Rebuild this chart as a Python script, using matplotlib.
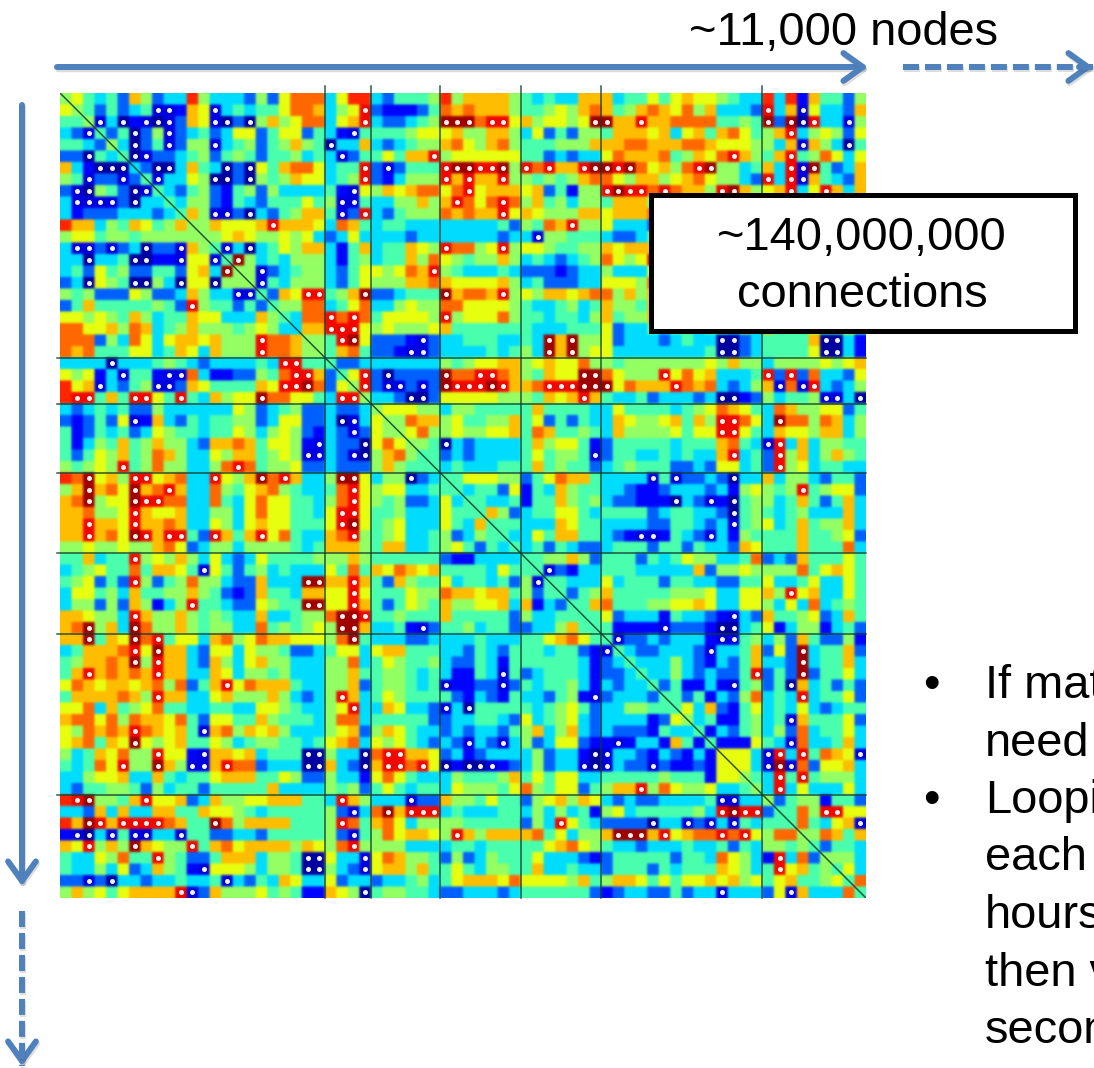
#plot.py
import numpy as np
import matplotlib
matplotlib.use("Agg")
import matplotlib.pyplot as plt
from matplotlib.patches import FancyArrowPatch, Rectangle
import matplotlib.patheffects as pe

plt.rcParams["font.family"] = ["Liberation Sans", "DejaVu Sans"]

# colour level of each code used in the rows below
level_codes = {"0": 0.03, "a": 0.085, "1": 0.13, "2": 0.22, "3": 0.34, "4": 0.44, "5": 0.53,
               "6": 0.63, "7": 0.71, "8": 0.80, "r": 0.87, "9": 0.90, "x": 0.97}

# upper triangle, row i starts at the diagonal cell. Rows 9-20 stop at column 50 (box covers the rest)
upper_rows = [
    "564342752 33r533325 26888 36rr 324445r577 7754343377 73446467 665433r3r174425",
    "54242 34aa1 76a34 34468 87356 9 2111248787 7754456578 74578768 573332937a63327",
    "5a301a0a27 6a02057568 83679 322345xxx8 996756656x x7797788 884454x2x0933a5",
    "424025a234 2366246624 31a4 4445666755 7753624255 47776736 747864579356526",
    "53024a255a 3452457540 337 3234557865 7854445557 77887778 876665537a75304",
    "40a2234524 542445343a 24 4647795666 6664423233 68777845 768975479458636",
    "3200374302 0647886344 9 2a24449xx9 9x5989779x x9x86758 9x5534739ax4237",
    "4a33650020 5457663459 2135559797 7955454578 86577567 865532939a74327",
    "4324521452 533334 1a6 5767886896 7776724155 9x998987 759x75679369737",
    "4355214324 44645aa4 3355757986 8985745355 4777",
    "475aa20324 5774a29 3245558787 7967655577 6777",
    "5576667977 763874 3443333333 3425487955 6333",
    "5567655656 32363 3332333333 3233a55444 3223",
    "4a30346577 3147 3447659885 6956654455 7677",
    "4x53435553 145 3447586545 5753432345 8656",
    "55a2345532 46 6568795433 3432221233 5333",
    "5a43555324 6 5557787666 6753422233 6665",
    "427699457x 223444x788 7956577678 8575",
    "455883468 3356558866 6654334534 7554",
    "43889898 4666659566 6854434435 7455",
    "3779996 5655567444 4444333444 6233",
    "5549x6 2221a23344 43343x7x55 62333234 330023444470031",
    "54784 221aa23333 43453x7x56 63333333 340023444460031",
    "4223 3333335456 6775676685 54555555 565755355556567",
    "469 202222x889 98754766xx 86555968 673334929283326",
    "59 2aa2a2x999 x9778999xx x6877798 7832357a8a93235",
    "5 3320026666 6555476797 43342333 23001253445aa30",
    "5666553554 4444744443 36444434 568764387556624",
    "5587756445 5746242433 7655674 7599863x8858735",
    "5685565566 7487445437 555564 669964376657735",
    "5540323333 4756641244 44434 447843a93735544",
    "4423233334 64554a2443 3434 337934295735754",
    "4343334447 4544234544 422 326634295634433",
    "4466655246 87743333a4 a2 232033735532442",
    "4344261437 5443321123 3 323156545945662",
    "4433414475 4532211103 2a1045534742473",
    "4752344664 344442344 332045434533373",
    "4443337644 33332244 323a45634745573",
    "4336477443 21aa143 2a3154444744562",
    "4342432234 442442 433276444744483",
    "4455752444 24346 553348232744464",
    "4a21334443 3333 725565555846764",
    "4433363444 244 332244633463364",
    "4245744444 55 563366759673364",
    "4478444556 6 763366536383454",
    "4462333143 321a32744562374",
    "441111a22 210034613551342",
    "4a223233 31aa45352742251",
    "4322333 2a3347262x34472",
    "433353 213247332x34473",
    "43353 232249242x24463",
    "4241 131a45240734242",
    "442 413258343934462",
    "46 372146343632344",
    "5 34114534a744462",
    "413245352834463",
    "4111643a833473",
    "6663a9394876a",
    "663axa826673",
    "54394945553",
    "5393633363",
    "524551442",
    "44859966",
    "484367a",
    "558747",
    "42443",
    "5553",
    "463",
    "48",
    "4",
]

# rows 51-69, columns 9-20: the mirror of the part under the box
mirror_rows = [
    "582479687774", "773367555753", "443344336654", "684266447544", "674a78576753",
    "674465345544", "661a77673444", "75aa79882333", "434467774465", "344244444733",
    "672375566777", "744766543444", "8744x8577774", "3a4422332444", "559478677775",
    "542247773554", "541a66653554", "34334a324376", "79a275556454",
]

module_edges = [23, 27, 33, 40, 47, 61]
bullet_lines = ["If mat", "need", "Loopi", "each", "hours", "then v", "secon"]
bullet_marks = [0, 2]

n = 70
matrix = np.full((n, n), 0.44)
bad = []
for i, row in enumerate(upper_rows):
    row = "".join(row.split())
    expected = 51 - i if 9 <= i <= 20 else n - i
    if len(row) != expected:
        bad.append((i, len(row), expected))
    for k, code in enumerate(row[:n - i]):
        matrix[i, i + k] = level_codes[code]
        matrix[i + k, i] = level_codes[code]
for i, row in enumerate(mirror_rows):
    for k, code in enumerate(row):
        matrix[51 + i, 9 + k] = level_codes[code]
        matrix[9 + k, 51 + i] = level_codes[code]
if bad:
    raise ValueError(f"row lengths: {bad}")

fig = plt.figure(figsize=(10.94, 10.68), dpi=100)

# heat map, 60..866 px across and 93..898 px down
# each cell is repeated 4 times so the gaussian filter only softens the cell edges
ax = fig.add_axes([60 / 1094, 1 - 898 / 1068, 806 / 1094, 805 / 1068])
ax.imshow(np.kron(matrix, np.ones((4, 4))), cmap="jet", vmin=0, vmax=1, interpolation="gaussian",
          aspect="auto", extent=(-0.5, n - 0.5, n - 0.5, -0.5))
rows, cols = np.where((matrix < 0.1) | (matrix >= 0.895))
ax.scatter(cols, rows, s=13, c="white", linewidths=0, alpha=0.95, zorder=3)
for e in module_edges:
    ax.plot([e - 0.5, e - 0.5], [-1.1, n - 0.5], color="#123a2a", lw=1.1, alpha=0.85, clip_on=False, zorder=4)
    ax.plot([-0.8, n - 0.5], [e - 0.5, e - 0.5], color="#123a2a", lw=1.1, alpha=0.85, clip_on=False, zorder=4)
ax.plot([-0.5, n - 0.5], [-0.5, n - 0.5], color="#123a2a", lw=1.1, alpha=0.85, zorder=4)
ax.set_xlim(-0.5, n - 0.5)
ax.set_ylim(n - 0.5, -0.5)
ax.axis("off")

# overlay in pixel coordinates for arrows, box and text
over = fig.add_axes([0, 0, 1, 1], zorder=5)
over.set_xlim(0, 1094)
over.set_ylim(1068, 0)
over.axis("off")
over.patch.set_alpha(0)

blue = "#4f81bd"
shadow = [pe.SimpleLineShadow(offset=(0.8, -1.6), alpha=0.2, shadow_color="#555555"), pe.Normal()]


def arrow(start, end, dashed=False):
    if dashed:
        # dashes without a head, then a short solid piece for the head
        over.plot([start[0], end[0]], [start[1], end[1]], color=blue, lw=4.3,
                  dashes=(2.68, 1.0), dash_capstyle="butt", path_effects=shadow)
        tail = (end[0] - 14 * np.sign(end[0] - start[0]), end[1] - 14 * np.sign(end[1] - start[1]))
        start = tail
    p = FancyArrowPatch(start, end, arrowstyle="->,head_length=14,head_width=10", color=blue,
                        lw=4.3, shrinkA=0, shrinkB=0, mutation_scale=1, path_effects=shadow)
    over.add_patch(p)


arrow((57, 67), (868, 67))
arrow((903, 67), (1093, 67), dashed=True)
arrow((22, 105), (22, 886))
arrow((22, 911), (22, 1066), dashed=True)

over.add_patch(Rectangle((650.5, 194.5), 424, 136, facecolor="white", edgecolor="black", lw=3.6))

fs = 33.8
over.text(844, 45, "~11,000 nodes", fontsize=fs, ha="center", va="baseline")
over.text(862, 250, "~140,000,000", fontsize=fs, ha="center", va="baseline")
over.text(862, 307, "connections", fontsize=fs, ha="center", va="baseline")

for i, line in enumerate(bullet_lines):
    base = 698 + i * 57.5
    if i in bullet_marks:
        over.text(931, base, "•", fontsize=fs, ha="center", va="baseline")
    over.text(985, base, line, fontsize=fs, ha="left", va="baseline")

fig.savefig("out.png", dpi=100)
